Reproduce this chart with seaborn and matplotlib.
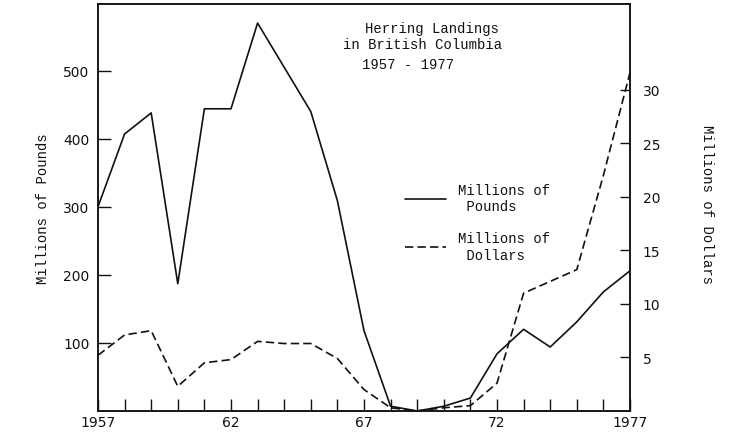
import matplotlib
matplotlib.use("Agg")
import matplotlib.pyplot as plt
import seaborn as sns
import pandas as pd

# herring landings in British Columbia
years = list(range(1957, 1978))
pounds = [300, 407, 438, 187, 444, 444, 570, 505, 440, 309, 118,
          7, 0, 7, 19, 84, 120, 94, 131, 175, 206]
dollars = [5.2, 7.1, 7.5, 2.3, 4.5, 4.8, 6.5, 6.3, 6.3, 4.9, 2.0,
           0.3, 0.0, 0.3, 0.5, 2.6, 11.0, 12.1, 13.2, 22.0, 31.6]

year_labels = ["1957", "", "", "", "", "62", "", "", "", "", "67",
               "", "", "", "", "72", "", "", "", "", "1977"]
pound_ticks = [100, 200, 300, 400, 500]
dollar_ticks = [5, 10, 15, 20, 25, 30]

df = pd.DataFrame({"year": years, "pounds": pounds, "dollars": dollars})

sns.set_style("ticks")
plt.rcParams["font.family"] = ["DejaVu Sans"]
mono = "Liberation Mono"
ink = "#111111"

fig = plt.figure(figsize=(7.29, 4.35), dpi=100)
ax = fig.add_axes([0.1344, 0.0529, 0.7298, 0.9356])
ax2 = ax.twinx()

sns.lineplot(data=df, x="year", y="pounds", ax=ax, color=ink, lw=1.2,
             label="Millions of\n Pounds", legend=False)
sns.lineplot(data=df, x="year", y="dollars", ax=ax2, color=ink, lw=1.2,
             linestyle=(0, (5, 2.5)), label="Millions of\n Dollars", legend=False)

ax.set_xlim(1957, 1977)
ax.set_ylim(0, 598)
ax2.set_ylim(0, 38)

ax.set_xticks(years)
ax.set_xticklabels(year_labels)
ax.set_yticks(pound_ticks)
ax2.set_yticks(dollar_ticks)

ax.tick_params(axis="x", direction="in", length=9, width=1, pad=3,
               labelsize=10, colors=ink, top=False)
ax.tick_params(axis="y", direction="in", length=9, width=1, pad=6,
               labelsize=10, colors=ink, right=False)
ax2.tick_params(axis="y", direction="in", length=7, width=1, pad=9,
                labelsize=10, colors=ink)

for a in (ax, ax2):
    for s in a.spines.values():
        s.set_color(ink)
        s.set_linewidth(1.1)

ax.set_xlabel("")
ax.set_ylabel("Millions of Pounds", family=mono, fontsize=10, color=ink)
ax.yaxis.set_label_coords(-0.09, 0.5)
ax2.set_ylabel("Millions of Dollars", family=mono, fontsize=10, color=ink,
               rotation=-90, va="center")
ax2.yaxis.set_label_coords(1.145, 0.51)

# title block inside the plot
ax.text(0.502, 0.941, "Herring Landings", transform=ax.transAxes,
        family=mono, fontsize=10, color=ink, va="center")
ax.text(0.461, 0.902, "in British Columbia", transform=ax.transAxes,
        family=mono, fontsize=10, color=ink, va="center")
ax.text(0.496, 0.853, "1957 - 1977", transform=ax.transAxes,
        family=mono, fontsize=10, color=ink, va="center")

h1, l1 = ax.get_legend_handles_labels()
h2, l2 = ax2.get_legend_handles_labels()
leg = ax2.legend(h1 + h2, l1 + l2, loc="upper left",
                 bbox_to_anchor=(0.578, 0.56), frameon=False,
                 prop={"family": mono, "size": 10},
                 handlelength=2.9, handletextpad=0.9, labelspacing=1.3,
                 borderpad=0, borderaxespad=0)
for t in leg.get_texts():
    t.set_color(ink)

fig.savefig("out.png", dpi=100)
